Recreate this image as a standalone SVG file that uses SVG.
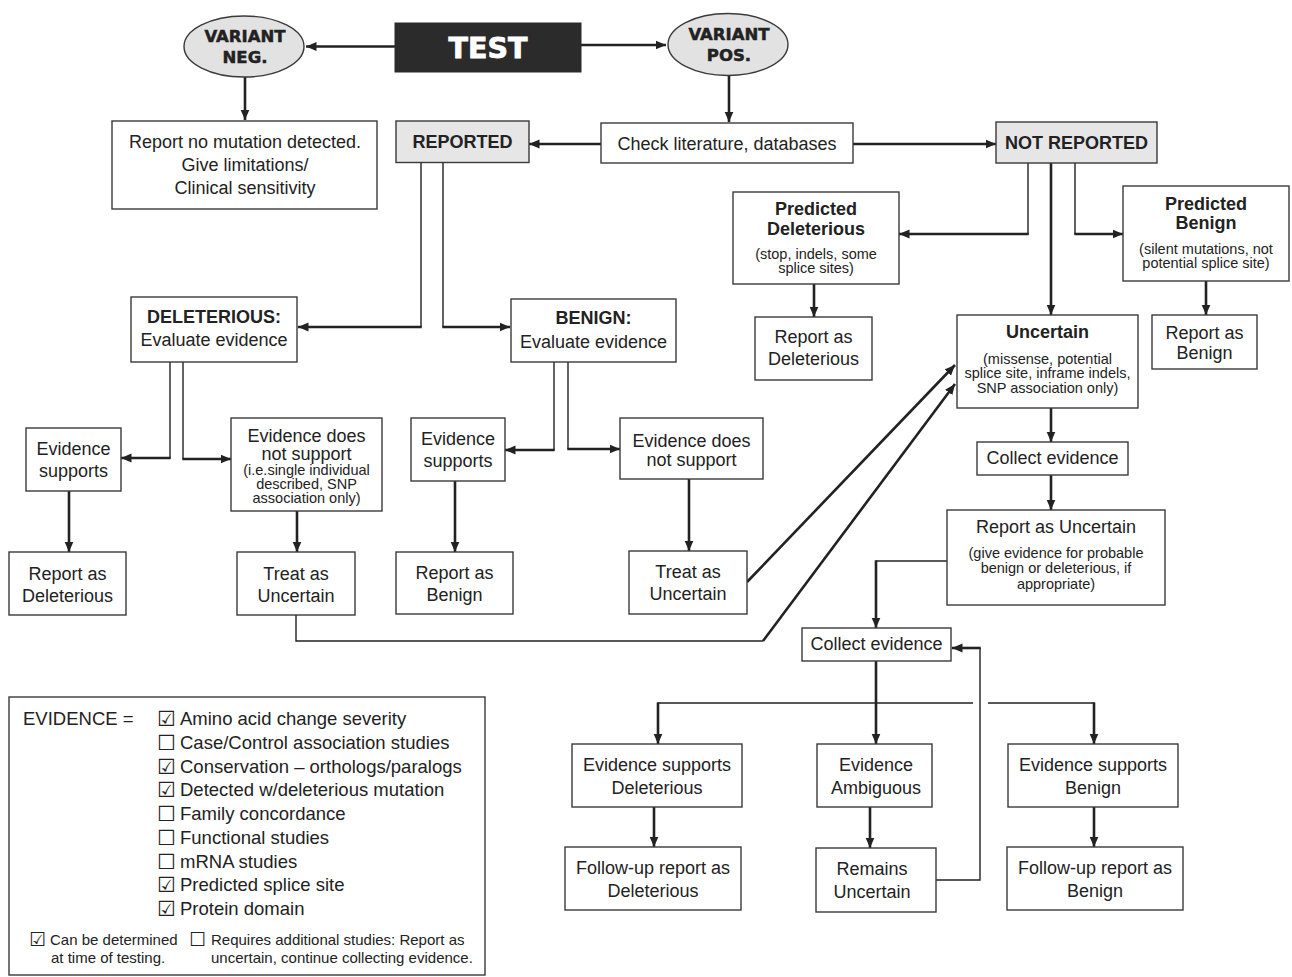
<svg xmlns="http://www.w3.org/2000/svg" width="1292" height="977" viewBox="0 0 1292 977">
<defs>
<marker id="ah" markerUnits="userSpaceOnUse" markerWidth="11" markerHeight="10" refX="10.5" refY="5" orient="auto">
<path d="M0,0.5 L10.5,5 L0,9.5 z" fill="#222"/>
</marker>
</defs>
<style>
.box{fill:#fff;stroke:#3a3a3a;stroke-width:1.4}
.gray{fill:#e6e6e6}
.ell{fill:#e2e2e2;stroke:#3a3a3a;stroke-width:1.4}
text{font-family:"Liberation Sans",Arial,sans-serif;fill:#222}
.t{font-size:18px;text-anchor:middle}
.b{font-weight:bold}
.s{font-size:14.5px;text-anchor:middle}
.hv{font-family:"DejaVu Sans",sans-serif;font-weight:bold;text-anchor:middle;stroke:#222;stroke-width:0.5}
.lg{font-size:18.5px}
.ft{font-size:15px}
.ck{font-family:"DejaVu Sans",sans-serif}
.thin{fill:none;stroke:#222;stroke-width:1.4}
.thick{fill:none;stroke:#222;stroke-width:2.6}
.arr{marker-end:url(#ah)}
</style>

<g id="connectors">
<path class="thick arr" d="M395,46.5 H306"/>
<path class="thick arr" d="M581,45 H666"/>
<path class="thick arr" d="M245,77 V120"/>
<path class="thick arr" d="M729,76 V122"/>
<path class="thick arr" d="M601,144 H529"/>
<path class="thick arr" d="M853,144 H996"/>
<path class="thin" d="M421,162 V327"/>
<path class="thick arr" d="M421.7,327 H298"/>
<path class="thin" d="M443,162 V327"/>
<path class="thick arr" d="M442.3,327 H510"/>
<path class="thin" d="M170,362 V458"/>
<path class="thick arr" d="M170.7,458 H121"/>
<path class="thin" d="M183,362 V459"/>
<path class="thick arr" d="M182.3,459 H231"/>
<path class="thin" d="M554,362 V450"/>
<path class="thick arr" d="M554.7,450 H505"/>
<path class="thin" d="M568,362 V449"/>
<path class="thick arr" d="M567.3,449 H620"/>
<path class="thick arr" d="M69,491 V552"/>
<path class="thick arr" d="M297,511 V552"/>
<path class="thick arr" d="M455,481 V552"/>
<path class="thick arr" d="M689,479 V551"/>
<path class="thick arr" d="M747,582 L955,365"/>
<path class="thin" d="M296,615 V641 H763"/>
<path class="thick arr" d="M763,641 L955,384"/>
<path class="thin" d="M1028,163 V234"/>
<path class="thick arr" d="M1028.7,234 H899"/>
<path class="thin" d="M1075,163 V234"/>
<path class="thick arr" d="M1074.3,234 H1123"/>
<path class="thick arr" d="M1051,163 V315"/>
<path class="thick arr" d="M814,284 V317"/>
<path class="thick arr" d="M1206,281 V315"/>
<path class="thick arr" d="M1051,408 V442"/>
<path class="thick arr" d="M1051,475 V510"/>
<path class="thin" d="M947,561 H876"/>
<path class="thick arr" d="M876,560.3 V628"/>
<path class="thick arr" d="M876,661 V744"/>
<path class="thin" d="M658,703 H973 M988,703 H1094"/>
<path class="thick arr" d="M658,702.3 V744"/>
<path class="thick arr" d="M1094,702.3 V744"/>
<path class="thick arr" d="M654,807 V847"/>
<path class="thick arr" d="M870,807 V848"/>
<path class="thick arr" d="M1094,807 V847"/>
<path class="thin" d="M936,880 H980 V648"/>
<path class="thick arr" d="M980.7,648 H952"/>
</g>

<g id="variant-neg">
<ellipse class="ell" cx="244" cy="46.5" rx="60" ry="30.5"/>
<text class="hv" x="245" y="42" font-size="16.5">VARIANT</text>
<text class="hv" x="245" y="63" font-size="16.5">NEG.</text>
</g>
<g id="test">
<rect x="395" y="23" width="186" height="49" fill="#2b2b2b" stroke="#2b2b2b"/>
<text class="hv" x="488" y="57.5" font-size="28.5" style="fill:#fff;stroke:#fff;stroke-width:0.8">TEST</text>
</g>
<g id="variant-pos">
<ellipse class="ell" cx="728" cy="44.5" rx="60" ry="31"/>
<text class="hv" x="729" y="40" font-size="16.5">VARIANT</text>
<text class="hv" x="729" y="61" font-size="16.5">POS.</text>
</g>

<g id="report-no-mutation">
<rect class="box" x="112" y="121" width="265" height="88"/>
<text class="t" x="245" y="148">Report no mutation detected.</text>
<text class="t" x="245" y="171">Give limitations/</text>
<text class="t" x="245" y="194">Clinical sensitivity</text>
</g>
<g id="reported">
<rect class="box gray" x="396" y="121" width="133" height="41.5"/>
<text class="t b" x="462.5" y="148">REPORTED</text>
</g>
<g id="check-literature">
<rect class="box" x="601" y="123" width="252" height="40"/>
<text class="t" x="727" y="150">Check literature, databases</text>
</g>
<g id="not-reported">
<rect class="box gray" x="996" y="122" width="161" height="41"/>
<text class="t b" x="1076.5" y="149">NOT REPORTED</text>
</g>

<g id="deleterious-evaluate">
<rect class="box" x="131" y="297" width="166" height="65"/>
<text class="t b" x="214" y="323">DELETERIOUS:</text>
<text class="t" x="214" y="346">Evaluate evidence</text>
</g>
<g id="benign-evaluate">
<rect class="box" x="511" y="299" width="165" height="63"/>
<text class="t b" x="593.5" y="324">BENIGN:</text>
<text class="t" x="593.5" y="348">Evaluate evidence</text>
</g>

<g id="evidence-supports-del">
<rect class="box" x="26" y="428" width="95" height="63"/>
<text class="t" x="73.5" y="455">Evidence</text>
<text class="t" x="73.5" y="477">supports</text>
</g>
<g id="evidence-not-support-del">
<rect class="box" x="231" y="418" width="151" height="93"/>
<text class="t" x="306.5" y="442">Evidence does</text>
<text class="t" x="306.5" y="460">not support</text>
<text class="s" x="306.5" y="475">(i.e.single individual</text>
<text class="s" x="306.5" y="489">described, SNP</text>
<text class="s" x="306.5" y="503">association only)</text>
</g>
<g id="report-deleterious-left">
<rect class="box" x="9" y="552" width="117" height="63"/>
<text class="t" x="67.5" y="580">Report as</text>
<text class="t" x="67.5" y="602">Deleterious</text>
</g>
<g id="treat-uncertain-left">
<rect class="box" x="237" y="552" width="118" height="63"/>
<text class="t" x="296" y="580">Treat as</text>
<text class="t" x="296" y="602">Uncertain</text>
</g>

<g id="evidence-supports-ben">
<rect class="box" x="411" y="418" width="94" height="63"/>
<text class="t" x="458" y="445">Evidence</text>
<text class="t" x="458" y="467">supports</text>
</g>
<g id="evidence-not-support-ben">
<rect class="box" x="620" y="418" width="143" height="61"/>
<text class="t" x="691.5" y="447">Evidence does</text>
<text class="t" x="691.5" y="466">not support</text>
</g>
<g id="report-benign-mid">
<rect class="box" x="396" y="552" width="117" height="62"/>
<text class="t" x="454.5" y="579">Report as</text>
<text class="t" x="454.5" y="601">Benign</text>
</g>
<g id="treat-uncertain-right">
<rect class="box" x="629" y="551" width="118" height="63"/>
<text class="t" x="688" y="578">Treat as</text>
<text class="t" x="688" y="600">Uncertain</text>
</g>

<g id="predicted-deleterious">
<rect class="box" x="733" y="192" width="166" height="92"/>
<text class="t b" x="816" y="215">Predicted</text>
<text class="t b" x="816" y="235">Deleterious</text>
<text class="s" x="816" y="259">(stop, indels, some</text>
<text class="s" x="816" y="273">splice sites)</text>
</g>
<g id="predicted-benign">
<rect class="box" x="1123" y="186" width="166" height="95"/>
<text class="t b" x="1206" y="210">Predicted</text>
<text class="t b" x="1206" y="229">Benign</text>
<text class="s" x="1206" y="254">(silent mutations, not</text>
<text class="s" x="1206" y="268">potential splice site)</text>
</g>
<g id="report-deleterious-right">
<rect class="box" x="755" y="317" width="117" height="63"/>
<text class="t" x="813.5" y="343">Report as</text>
<text class="t" x="813.5" y="365">Deleterious</text>
</g>
<g id="report-benign-right">
<rect class="box" x="1152" y="315" width="105" height="54"/>
<text class="t" x="1204.5" y="339">Report as</text>
<text class="t" x="1204.5" y="359">Benign</text>
</g>
<g id="uncertain">
<rect class="box" x="957" y="315" width="181" height="93"/>
<text class="t b" x="1047.5" y="338">Uncertain</text>
<text class="s" x="1047.5" y="364">(missense, potential</text>
<text class="s" x="1047.5" y="378">splice site, inframe indels,</text>
<text class="s" x="1047.5" y="393">SNP association only)</text>
</g>
<g id="collect-evidence-1">
<rect class="box" x="977" y="442" width="151" height="33"/>
<text class="t" x="1052.5" y="464">Collect evidence</text>
</g>
<g id="report-uncertain">
<rect class="box" x="947" y="510" width="218" height="95"/>
<text class="t" x="1056" y="533">Report as Uncertain</text>
<text class="s" x="1056" y="558">(give evidence for probable</text>
<text class="s" x="1056" y="573">benign or deleterious, if</text>
<text class="s" x="1056" y="589">appropriate)</text>
</g>
<g id="collect-evidence-2">
<rect class="box" x="802" y="628" width="149" height="33"/>
<text class="t" x="876.5" y="650">Collect evidence</text>
</g>
<g id="evidence-supports-deleterious">
<rect class="box" x="572" y="744" width="170" height="63"/>
<text class="t" x="657" y="771">Evidence supports</text>
<text class="t" x="657" y="794">Deleterious</text>
</g>
<g id="evidence-ambiguous">
<rect class="box" x="817" y="744" width="115" height="63"/>
<text class="t" x="876" y="771">Evidence</text>
<text class="t" x="876" y="794">Ambiguous</text>
</g>
<g id="evidence-supports-benign">
<rect class="box" x="1008" y="744" width="170" height="63"/>
<text class="t" x="1093" y="771">Evidence supports</text>
<text class="t" x="1093" y="794">Benign</text>
</g>
<g id="followup-deleterious">
<rect class="box" x="565" y="847" width="176" height="63"/>
<text class="t" x="653" y="874">Follow-up report as</text>
<text class="t" x="653" y="897">Deleterious</text>
</g>
<g id="remains-uncertain">
<rect class="box" x="816" y="848" width="120" height="64"/>
<text class="t" x="872" y="875">Remains</text>
<text class="t" x="872" y="898">Uncertain</text>
</g>
<g id="followup-benign">
<rect class="box" x="1007" y="847" width="176" height="63"/>
<text class="t" x="1095" y="874">Follow-up report as</text>
<text class="t" x="1095" y="897">Benign</text>
</g>

<g id="evidence-legend">
<rect class="box" x="9" y="697" width="476" height="278"/>
<text class="lg" x="23" y="725">EVIDENCE =</text>
<g class="lg">
<text class="ck" x="157" y="726" font-size="21">☑</text><text x="180" y="725">Amino acid change severity</text>
<text class="ck" x="157" y="750" font-size="21">☐</text><text x="180" y="749">Case/Control association studies</text>
<text class="ck" x="157" y="774" font-size="21">☑</text><text x="180" y="773">Conservation – orthologs/paralogs</text>
<text class="ck" x="157" y="797" font-size="21">☑</text><text x="180" y="796">Detected w/deleterious mutation</text>
<text class="ck" x="157" y="821" font-size="21">☐</text><text x="180" y="820">Family concordance</text>
<text class="ck" x="157" y="845" font-size="21">☐</text><text x="180" y="844">Functional studies</text>
<text class="ck" x="157" y="869" font-size="21">☐</text><text x="180" y="868">mRNA studies</text>
<text class="ck" x="157" y="892" font-size="21">☑</text><text x="180" y="891">Predicted splice site</text>
<text class="ck" x="157" y="916" font-size="21">☑</text><text x="180" y="915">Protein domain</text>
</g>
<g class="ft">
<text class="ck" x="29" y="946" font-size="19">☑</text><text x="50" y="945">Can be determined</text>
<text x="51" y="963">at time of testing.</text>
<text class="ck" x="189" y="946" font-size="19">☐</text><text x="211" y="945">Requires additional studies: Report as</text>
<text x="211" y="963">uncertain, continue collecting evidence.</text>
</g>
</g>
</svg>
